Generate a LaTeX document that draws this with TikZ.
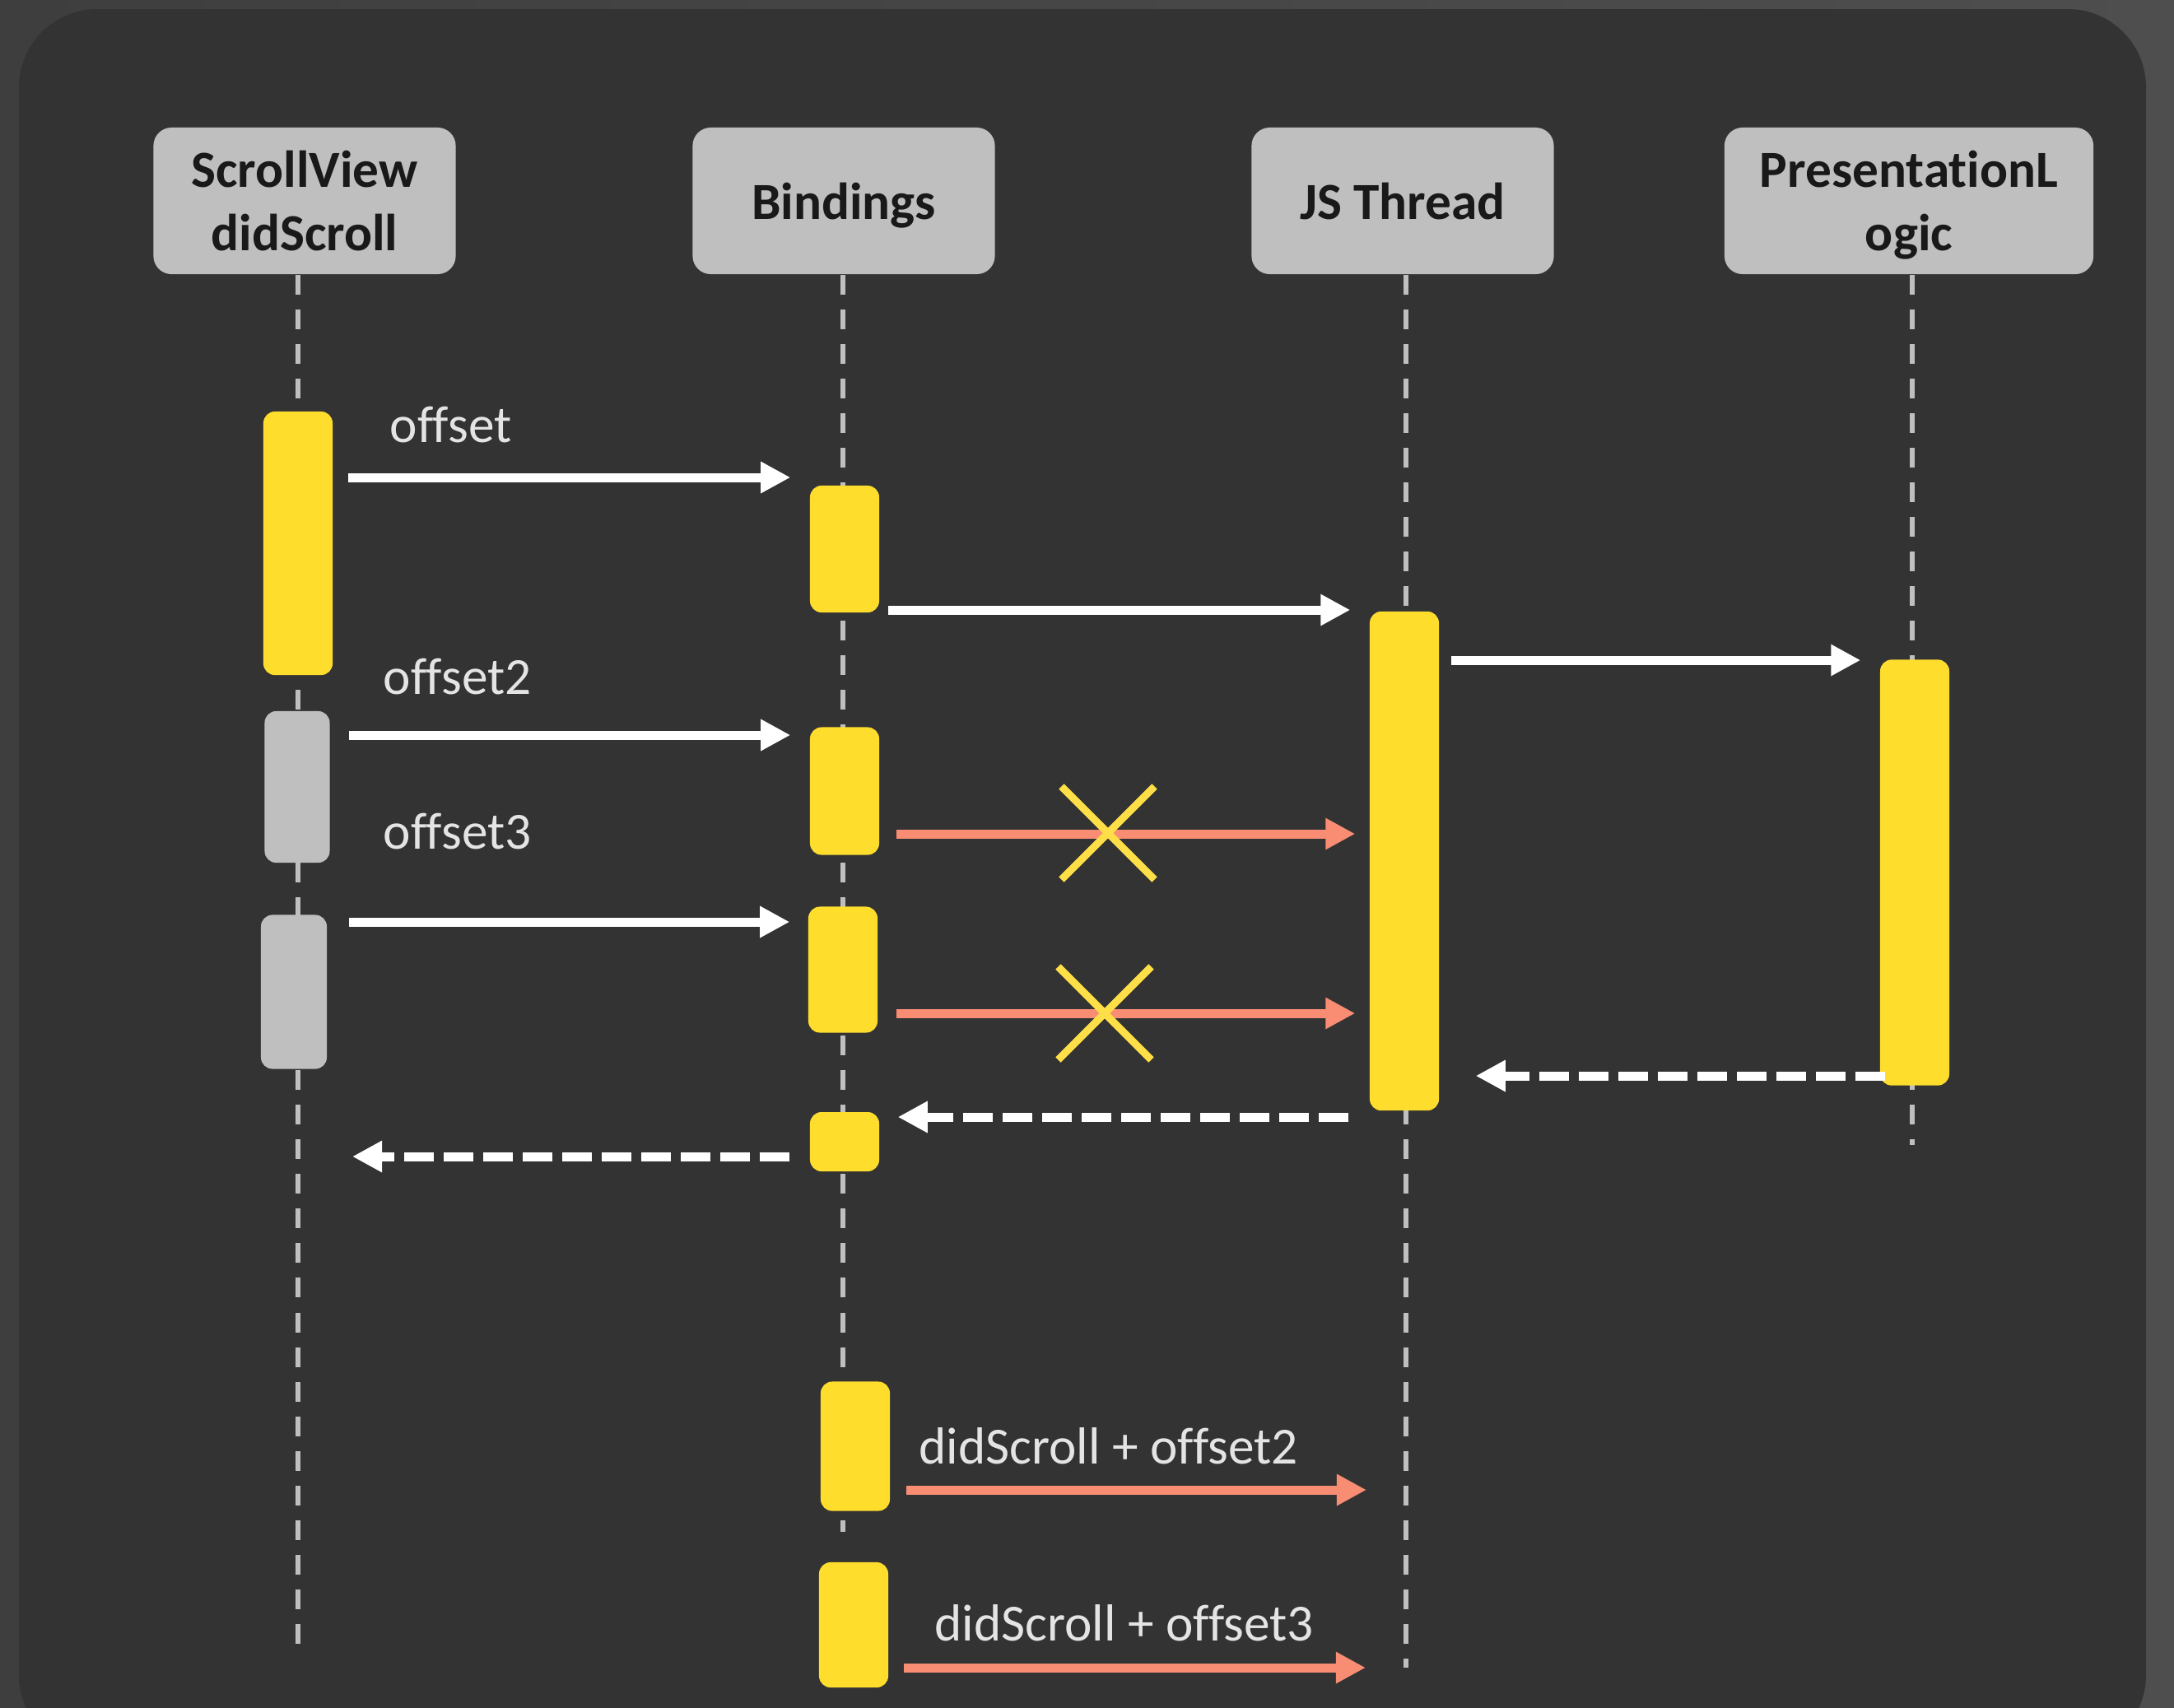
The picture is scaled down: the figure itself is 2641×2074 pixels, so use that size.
\documentclass[tikz,border=0pt]{standalone}
\usepackage{fontspec}
\setmainfont{Carlito}[Ligatures=NoCommon]
\usetikzlibrary{arrows.meta,shapes.misc}

\definecolor{outerbg}{HTML}{3E3E3E}
\definecolor{outerbgr}{HTML}{4E4E4E}
\definecolor{panelbg}{HTML}{333333}
\definecolor{headgrey}{HTML}{BFBFBF}
\definecolor{actyellow}{HTML}{FFDD2D}
\definecolor{salmon}{HTML}{F98D74}
\definecolor{crossyellow}{HTML}{FFDF47}
\definecolor{labelgrey}{HTML}{E4E4E4}

\begin{document}
\begin{tikzpicture}[
		x=0.01cm, y=-0.01cm,
		head/.style={
			fill=headgrey,
			rounded corners=0.22cm,
			align=center,
			minimum width=3.67cm,
			minimum height=1.78cm,
			inner sep=0pt,
			text depth=0pt,
			font=\fontsize{18}{22}\selectfont\bfseries,
			text=black!90
		},
		bar/.style={
			fill=actyellow,
			rounded corners=0.14cm,
			minimum width=0.84cm,
			inner sep=0pt
		},
		idlebar/.style={bar, fill=headgrey, minimum width=0.8cm},
		life/.style={draw=headgrey, line width=0.06cm, dash pattern=on 0.24cm off 0.18cm},
		msg/.style={
			draw=white,
			line width=0.11cm,
			-{Triangle[length=0.36cm,width=0.36cm]},
			shorten <=0.18cm,
			shorten >=0.23cm
		},
		lost/.style={msg, draw=salmon, fill=salmon},
		ret/.style={msg, dash pattern=on 0.36cm off 0.12cm},
		cross/.style={cross out, draw=crossyellow, line width=0.09cm, minimum size=1.04cm, inner sep=0pt},
		lbl/.style={anchor=base west, text=labelgrey, font=\fontsize{18}{22}\selectfont, inner sep=0pt}
		]
		
		\useasboundingbox (0,0) rectangle (2641,2074);
		
		% Background and panel
		\shade[left color=outerbg, right color=outerbgr] (0,0) rectangle (2641,2074);
		\fill[panelbg, rounded corners=0.95cm] (23,11) rectangle (2607,2130);
		
		% Participants
		\node[head] (hsv) at (370,244) {ScrollView\\didScroll};
		\node[head] (hbd) at (1025,244) {Bindings};
		\node[head] (hjs) at (1704,244) {JS Thread};
		\node[head, minimum width=4.48cm] (hpl) at (2319,244) {PresentationL\\ogic};
		
		% Lifelines
		\draw[life] (hsv.south -| 362,0) -- (362,1999);
		\draw[life] (hbd.south -| 1024,0) -- (1024,1861);
		\draw[life] (hjs.south -| 1708,0) -- (1708,2026);
		\draw[life] (hpl.south -| 2323,0) -- (2323,1391);
		
		% Activations
		\node[bar, minimum height=3.2cm] (sv1) at (362,660) {};
		\node[idlebar, minimum width=0.79cm, minimum height=1.84cm] (sv2) at (361,956) {};
		\node[idlebar, minimum height=1.87cm] (sv3) at (357,1205) {};
		\node[bar, minimum height=1.54cm] (bd1) at (1026,667) {};
		\node[bar, minimum height=1.55cm] (bd2) at (1026,961) {};
		\node[bar, minimum height=1.53cm] (bd3) at (1024,1178) {};
		\node[bar, minimum height=0.72cm] (bd4) at (1026,1387) {};
		\node[bar, minimum height=1.57cm] (bd5) at (1039,1757) {};
		\node[bar, minimum height=1.52cm] (bd6) at (1037,1974) {};
		\node[bar, minimum height=6.06cm] (js1) at (1706,1046) {};
		\node[bar, minimum height=5.17cm] (pl1) at (2326,1060) {};
		
		% Calls
		\draw[msg] (sv1.east |- 0,580) -- (bd1.west |- 0,580);
		\draw[msg, shorten <=0.1cm] (bd1.east |- 0,741) -- (js1.west |- 0,741);
		\draw[msg, shorten <=0.14cm] (js1.east |- 0,802) -- (pl1.west |- 0,802);
		\draw[msg, shorten <=0.23cm] (sv2.east |- 0,893) -- (bd2.west |- 0,893);
		\draw[lost, shorten <=0.2cm, shorten >=0.17cm] (bd2.east |- 0,1013) -- (js1.west |- 0,1013);
		\draw[msg, shorten <=0.26cm, shorten >=0.22cm] (sv3.east |- 0,1120) -- (bd3.west |- 0,1120);
		\draw[lost, shorten <=0.22cm, shorten >=0.17cm] (bd3.east |- 0,1231) -- (js1.west |- 0,1231);
		
		% Dropped calls
		\node[cross] (x1) at (1346,1012) {};
		\node[cross] (x2) at (1342,1231) {};
		
		% Returns
		\draw[ret, shorten <=-0.07cm, shorten >=0.44cm] (pl1.west |- 0,1307) -- (js1.east |- 0,1307);
		\draw[ret, shorten <=0.25cm, shorten >=0.22cm] (js1.west |- 0,1357) -- (bd4.east |- 0,1357);
		\draw[ret, shorten <=0.24cm, shorten >=0.66cm] (bd4.west |- 0,1405) -- (sv1 |- 0,1405);
		
		% Batched calls
		\draw[lost, shorten <=0.19cm, shorten >=0.46cm] (bd5.east |- 0,1810) -- (js1 |- 0,1810);
		\draw[lost, shorten <=0.18cm, shorten >=0.47cm] (bd6.east |- 0,2026) -- (js1 |- 0,2026);
		
		% Labels
		\node[lbl] (loff1) at (473,537) {offset};
		\node[lbl] (loff2) at (465,843) {offset2};
		\node[lbl] (loff3) at (465,1031) {offset3};
		\node[lbl] (ldid2) at (1116,1778) {didScroll + offset2};
		\node[lbl] (ldid3) at (1135,1993) {didScroll + offset3};
		
	\end{tikzpicture}
\end{document}
